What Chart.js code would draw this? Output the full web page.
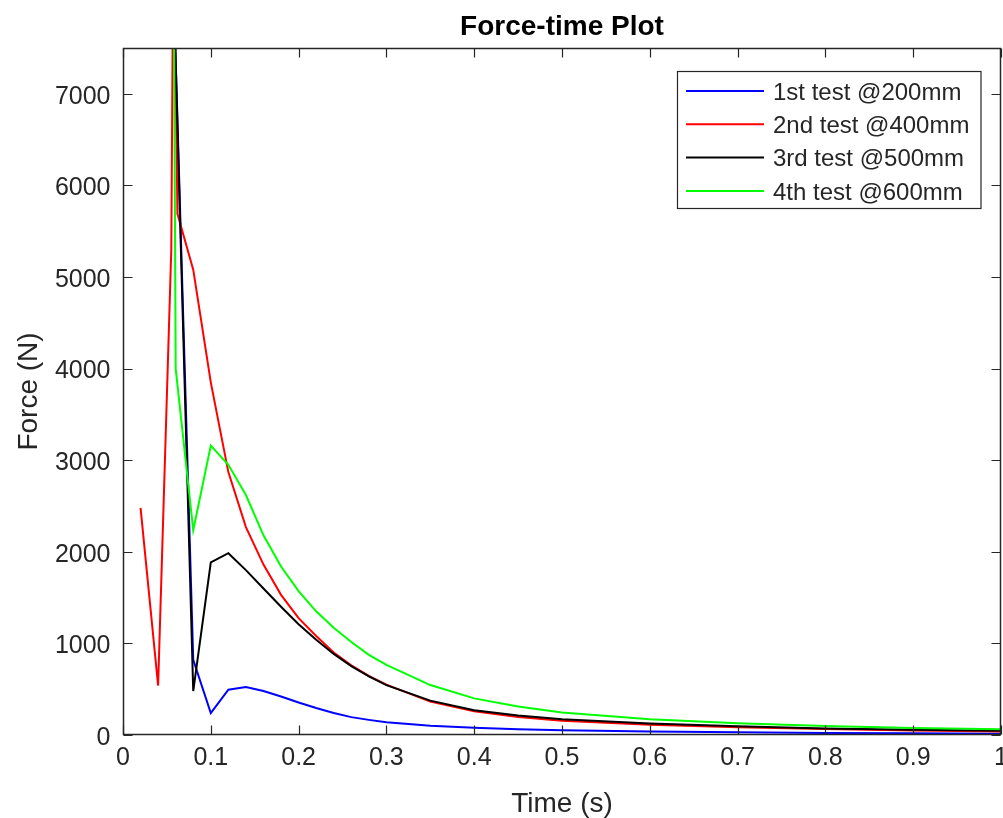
<!DOCTYPE html>
<html lang="en">
<head>
<meta charset="UTF-8" />
<title>Force-time Plot</title>
<script src="https://cdn.jsdelivr.net/npm/chart.js@4.4.0/dist/chart.umd.min.js"></script>
<style>
  html, body { margin: 0; padding: 0; background: #fff; overflow: hidden; }
  #wrap { position: relative; width: 1003px; height: 818px; }
</style>
</head>
<body>
<div id="wrap"><canvas id="forceChart"></canvas></div>
<script>
// time (s) / force (N) samples for each drop height
const tBlue = [0.0575, 0.08, 0.1, 0.12, 0.14, 0.16, 0.18, 0.2, 0.22, 0.24, 0.26, 0.28, 0.3, 0.35, 0.4, 0.45, 0.5, 0.6, 0.7, 0.8, 0.9, 1.0];
const fBlue = [8200, 820, 240, 495, 525, 480, 420, 355, 295, 240, 195, 165, 138, 100, 80, 64, 52, 38, 30, 22, 18, 14];

const tRed = [0.02, 0.04, 0.055, 0.0575, 0.062, 0.08, 0.1, 0.12, 0.14, 0.16, 0.18, 0.2, 0.22, 0.24, 0.26, 0.28, 0.3, 0.35, 0.4, 0.45, 0.5, 0.6, 0.7, 0.8, 0.9, 1.0];
const fRed = [2480, 540, 5300, 9000, 5690, 5080, 3850, 2870, 2270, 1860, 1530, 1275, 1080, 900, 760, 645, 550, 365, 258, 197, 155, 112, 85, 65, 48, 38];

const tBlack = [0.0575, 0.08, 0.1, 0.12, 0.14, 0.16, 0.18, 0.2, 0.22, 0.24, 0.26, 0.28, 0.3, 0.35, 0.4, 0.45, 0.5, 0.6, 0.7, 0.8, 0.9, 1.0];
const fBlack = [8200, 480, 1885, 1985, 1800, 1600, 1400, 1210, 1040, 885, 752, 640, 545, 375, 270, 212, 172, 125, 95, 72, 57, 47];

const tGreen = [0.0575, 0.06, 0.08, 0.1, 0.12, 0.14, 0.16, 0.18, 0.2, 0.22, 0.24, 0.26, 0.28, 0.3, 0.35, 0.4, 0.45, 0.5, 0.6, 0.7, 0.8, 0.9, 1.0];
const fGreen = [9000, 4000, 2235, 3160, 2950, 2620, 2180, 1840, 1570, 1350, 1170, 1015, 875, 765, 545, 400, 312, 245, 172, 128, 98, 77, 62];

const seriesNames = ["1st test @200mm", "2nd test @400mm", "3rd test @500mm", "4th test @600mm"];
const seriesColors = ["#0000ff", "#ff0000", "#000000", "#00ff00"];

const xTicks = [0, 0.1, 0.2, 0.3, 0.4, 0.5, 0.6, 0.7, 0.8, 0.9, 1];
const xTickLabels = ["0", "0.1", "0.2", "0.3", "0.4", "0.5", "0.6", "0.7", "0.8", "0.9", "1"];
const yTicks = [0, 1000, 2000, 3000, 4000, 5000, 6000, 7000];

const FONT = '"Liberation Sans", Arial, Helvetica, sans-serif';
const AXIS_COLOR = "#262626";

function toPoints(ts, fs) {
  return ts.map((t, i) => ({ x: t, y: fs[i] }));
}

const seriesData = [
  toPoints(tBlue, fBlue),
  toPoints(tRed, fRed),
  toPoints(tBlack, fBlack),
  toPoints(tGreen, fGreen),
];

// matlab-ish box axes, inward ticks, labels and a boxed legend
const matlabAxes = {
  id: "matlabAxes",
  afterDatasetsDraw(chart) {
    const ctx = chart.ctx;
    const a = chart.chartArea;
    const xs = chart.scales.x;
    const ys = chart.scales.y;
    const L = Math.round(a.left) + 0.5, R = Math.round(a.right) - 0.5;
    const T = Math.round(a.top) + 0.5, B = Math.round(a.bottom) - 0.5;
    const tick = 9;

    ctx.save();
    ctx.strokeStyle = AXIS_COLOR;
    ctx.lineWidth = 1.5;
    ctx.strokeRect(L, T, R - L, B - T);

    ctx.lineWidth = 1.2;
    ctx.beginPath();
    xTicks.forEach(v => {
      const px = Math.round(xs.getPixelForValue(v)) + 0.5;
      ctx.moveTo(px, B); ctx.lineTo(px, B - tick);
      ctx.moveTo(px, T); ctx.lineTo(px, T + tick);
    });
    yTicks.forEach(v => {
      const py = Math.round(ys.getPixelForValue(v)) + 0.5;
      ctx.moveTo(L, py); ctx.lineTo(L + tick, py);
      ctx.moveTo(R, py); ctx.lineTo(R - tick, py);
    });
    ctx.stroke();

    // tick labels
    ctx.fillStyle = AXIS_COLOR;
    ctx.font = "25px " + FONT;
    ctx.textAlign = "center";
    ctx.textBaseline = "top";
    xTicks.forEach((v, i) => {
      ctx.fillText(xTickLabels[i], xs.getPixelForValue(v), B + 11);
    });
    ctx.textAlign = "right";
    ctx.textBaseline = "middle";
    yTicks.forEach(v => {
      ctx.fillText(String(v), L - 13, ys.getPixelForValue(v) + 3);
    });

    // axis titles
    ctx.font = "28px " + FONT;
    ctx.textAlign = "center";
    ctx.textBaseline = "middle";
    ctx.fillText("Time (s)", (L + R) / 2, 804);
    ctx.save();
    ctx.translate(29, (T + B) / 2);
    ctx.rotate(-Math.PI / 2);
    ctx.fillText("Force (N)", 0, 0);
    ctx.restore();

    // title
    ctx.fillStyle = "#000";
    ctx.font = "bold 28px " + FONT;
    ctx.fillText("Force-time Plot", (L + R) / 2, 27);

    // legend
    const bx = 677.5, by = 71.5, bw = 303.5, bh = 137;
    ctx.fillStyle = "#fff";
    ctx.fillRect(bx, by, bw, bh);
    ctx.strokeStyle = AXIS_COLOR;
    ctx.lineWidth = 1.2;
    ctx.strokeRect(bx, by, bw, bh);
    ctx.font = "24px " + FONT;
    ctx.textAlign = "left";
    ctx.textBaseline = "middle";
    chart.data.datasets.forEach((ds, i) => {
      const ry = 91 + i * 33.3;
      ctx.strokeStyle = ds.borderColor;
      ctx.lineWidth = 2;
      ctx.beginPath();
      ctx.moveTo(686, ry); ctx.lineTo(764, ry);
      ctx.stroke();
      ctx.fillStyle = AXIS_COLOR;
      ctx.fillText(ds.label, 773, ry + 2);
    });
    ctx.restore();
  }
};

const chart = new Chart(document.getElementById("forceChart"), {
  type: "line",
  data: {
    datasets: seriesData.map((pts, i) => ({
      label: seriesNames[i],
      data: pts,
      borderColor: seriesColors[i],
      backgroundColor: seriesColors[i],
      borderWidth: 2,
      pointRadius: 0,
      tension: 0,
      fill: false,
      order: 4 - i,
    })),
  },
  options: {
    responsive: true,
    maintainAspectRatio: false,
    animation: false,
    devicePixelRatio: 1,
    layout: { padding: { left: 123, top: 48, right: 2, bottom: 83 } },
    plugins: {
      legend: { display: false },
      tooltip: { enabled: false },
      title: { display: false },
    },
    scales: {
      x: { type: "linear", min: 0, max: 1, display: false },
      y: { type: "linear", min: 0, max: 7500, display: false },
    },
  },
  plugins: [matlabAxes],
});
</script>
</body>
</html>
